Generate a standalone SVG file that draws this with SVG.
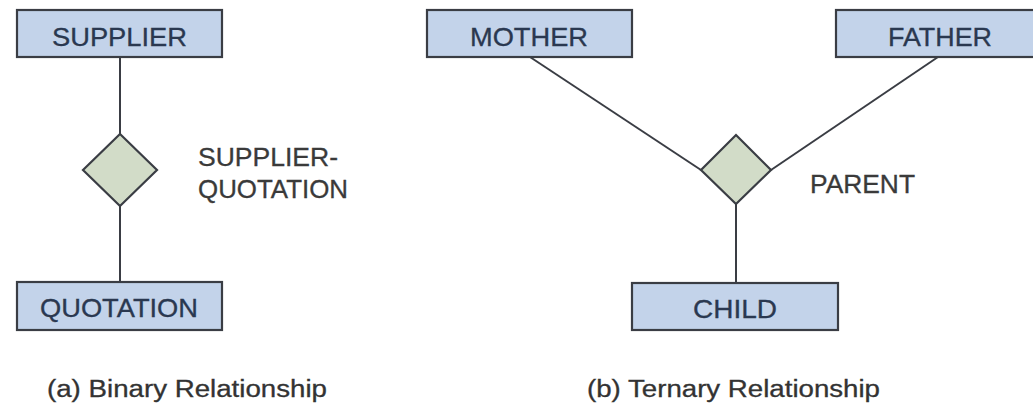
<svg xmlns="http://www.w3.org/2000/svg" width="1033" height="409" viewBox="0 0 1033 409">
  <style>
    .entity rect { fill: #c3d3ea; stroke: #3a3d44; stroke-width: 2.2; }
    .entity text { font-family: "Liberation Sans", Arial, sans-serif; font-size: 25px; fill: #2a3850; text-anchor: middle; stroke: #2a3850; stroke-width: 0.3; }
    .rel polygon { fill: #d2dcc8; stroke: #3a3d44; stroke-width: 2.2; }
    .label { font-family: "Liberation Sans", Arial, sans-serif; font-size: 25px; fill: #3a3a3a; stroke: #3a3a3a; stroke-width: 0.3; }
    .caption { font-family: "Liberation Sans", Arial, sans-serif; font-size: 23px; fill: #333333; stroke: #333333; stroke-width: 0.3; }
    .conn line { stroke: #3a3d44; stroke-width: 2; }
  </style>
  <rect width="1033" height="409" fill="#ffffff"/>

  <!-- connectors -->
  <g id="connectors" class="conn">
    <line x1="120" y1="57" x2="120" y2="134"/>
    <line x1="120" y1="206" x2="120" y2="282"/>
    <line x1="530" y1="57" x2="701" y2="170"/>
    <line x1="938" y1="57" x2="771" y2="170"/>
    <line x1="736" y1="204" x2="736" y2="283"/>
  </g>

  <!-- (a) binary relationship -->
  <g id="supplier" class="entity">
    <rect x="17" y="10" width="205" height="47"/>
    <text x="119.5" y="46" textLength="135" lengthAdjust="spacingAndGlyphs">SUPPLIER</text>
  </g>
  <g id="supplier-quotation" class="rel">
    <polygon points="120,134 157,170 120,206 83,170"/>
    <text class="label" x="198" y="166" textLength="140" lengthAdjust="spacingAndGlyphs">SUPPLIER-</text>
    <text class="label" x="198" y="198" textLength="150" lengthAdjust="spacingAndGlyphs">QUOTATION</text>
  </g>
  <g id="quotation" class="entity">
    <rect x="17" y="282" width="205" height="48"/>
    <text x="119" y="317" textLength="158" lengthAdjust="spacingAndGlyphs">QUOTATION</text>
  </g>
  <text class="caption" x="47" y="397" textLength="280" lengthAdjust="spacingAndGlyphs">(a) Binary Relationship</text>

  <!-- (b) ternary relationship -->
  <g id="mother" class="entity">
    <rect x="427" y="10" width="205" height="47"/>
    <text x="529" y="46" textLength="118" lengthAdjust="spacingAndGlyphs">MOTHER</text>
  </g>
  <g id="father" class="entity">
    <rect x="836" y="10" width="205" height="47"/>
    <text x="940" y="46" textLength="104" lengthAdjust="spacingAndGlyphs">FATHER</text>
  </g>
  <g id="parent" class="rel">
    <polygon points="736,135 771,170 736,204 701,170"/>
    <text class="label" x="810" y="193" textLength="105" lengthAdjust="spacingAndGlyphs">PARENT</text>
  </g>
  <g id="child" class="entity">
    <rect x="632" y="283" width="206" height="47"/>
    <text x="735" y="318" textLength="84" lengthAdjust="spacingAndGlyphs">CHILD</text>
  </g>
  <text class="caption" x="587" y="397" textLength="293" lengthAdjust="spacingAndGlyphs">(b) Ternary Relationship</text>
</svg>
